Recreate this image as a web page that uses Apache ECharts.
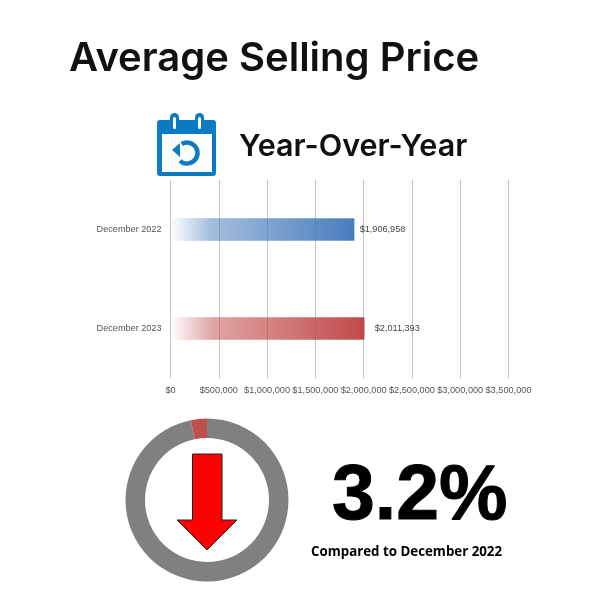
<!DOCTYPE html>
<html>
<head>
<meta charset="utf-8">
<style>html,body{margin:0;padding:0;background:#fff}#c{width:600px;height:600px}</style>
<script src="https://cdn.jsdelivr.net/npm/echarts@6/dist/echarts.min.js"></script>
</head>
<body>
<div id="c"></div>
<script>
const titleText = 'Average Selling Price';
const subtitleText = 'Year-Over-Year';
const categories = ['December 2022', 'December 2023'];
const prices = [1906958, 2011393];
const changeLabel = '3.2%';
const compareLabel = 'Compared to December 2022';
const donutValues = [96.8, 3.2];
const tickLabels = ['$0','$500,000','$1,000,000','$1,500,000','$2,000,000','$2,500,000','$3,000,000','$3,500,000'];

const fmt = v => '$' + v.toLocaleString('en-US');
const grad = (r,g,b,k) => ({type:'linear',x:0,y:0,x2:1,y2:0,colorStops:[
  {offset:0,color:`rgba(${r},${g},${b},0)`},
  {offset:0.22,color:`rgba(${r},${g},${b},${0.5*k})`},
  {offset:1,color:`rgba(${r},${g},${b},${k})`}]});
const barStyles = [
  {grad:grad(68,122,186,0.98), border:grad(68,122,186,0.4), dist:5},
  {grad:grad(190,70,68,0.98), border:grad(190,70,68,0.4), dist:10}
];
const blue = '#0b7cc4';
const pad = 0;

const chart = echarts.init(document.getElementById('c'), null, {renderer:'canvas'});
chart.setOption({
  animation:false,
  backgroundColor:'#fff',
  title:[
    {text:titleText,left:69,top:39,padding:pad,textStyle:{fontFamily:'Inter',fontSize:40,fontWeight:600,color:'#111'}},
    {text:subtitleText,left:239,top:131,padding:pad,textStyle:{fontFamily:'Inter',fontSize:30.5,fontWeight:600,color:'#111'}},
    {text:changeLabel,left:332,top:459,padding:pad,textStyle:{fontFamily:'Liberation Sans',fontSize:77,fontWeight:700,color:'#000',textBorderColor:'#000',textBorderWidth:1}},
    {text:compareLabel,left:311,top:546,padding:pad,textStyle:{fontFamily:'Open Sans',fontSize:13.3,fontWeight:700,color:'#000'}}
  ],
  grid:{left:170.5,top:180,width:338,height:198,containLabel:false},
  xAxis:{type:'value',min:0,max:3500000,interval:500000,
    axisLine:{show:false},axisTick:{show:false},
    axisLabel:{margin:8,fontFamily:'Liberation Sans',fontSize:9.2,color:'#555',hideOverlap:false,
      formatter:v=>tickLabels[v/500000]},
    splitLine:{show:true,lineStyle:{color:'#c4c4c4',width:1}}},
  yAxis:{type:'category',inverse:true,data:categories,
    axisLine:{show:false},axisTick:{show:false},
    axisLabel:{margin:9,fontFamily:'Liberation Sans',fontSize:9.15,color:'#555'}},
  series:[
    {type:'bar',barWidth:23,z:3,
     data:prices.map((v,i)=>({value:v,
       itemStyle:{color:barStyles[i].grad,borderColor:barStyles[i].border,borderWidth:1},
       label:{show:true,position:'right',distance:barStyles[i].dist,formatter:p=>fmt(p.value),
         fontFamily:'Liberation Sans',fontSize:9.15,color:'#444'}}))},
    {type:'pie',center:[207,500],radius:[62,81.5],startAngle:90,clockwise:true,silent:true,
     label:{show:false},labelLine:{show:false},
     data:[{value:donutValues[0],itemStyle:{color:'#808080'}},
           {value:donutValues[1],itemStyle:{color:'#c0504d'}}]}
  ],
  graphic:[
    {type:'group',left:157,top:113,children:[
      {type:'rect',shape:{x:0,y:7,width:59,height:56,r:3},style:{fill:blue}},
      {type:'rect',shape:{x:5,y:21,width:50,height:38},style:{fill:'#fff'}},
      {type:'rect',shape:{x:13,y:0,width:9,height:19,r:4.5},style:{fill:blue}},
      {type:'rect',shape:{x:38,y:0,width:9,height:19,r:4.5},style:{fill:blue}},
      {type:'rect',shape:{x:16,y:4,width:3,height:12,r:1.5},style:{fill:'#fff'}},
      {type:'rect',shape:{x:41,y:4,width:3,height:12,r:1.5},style:{fill:'#fff'}},
      {type:'arc',shape:{cx:30,cy:40,r:10.5,startAngle:-2.1,endAngle:2.3,clockwise:true},
        style:{stroke:blue,lineWidth:4.5,fill:null}},
      {type:'polygon',shape:{points:[[15,37],[23,30],[23,44]]},style:{fill:blue}}
    ]},
    {type:'polygon',z:10,shape:{points:[[192.5,454],[222,454],[222,520],[237,520],[207,550],[177,520],[192.5,520]]},
      style:{fill:'#ff0000',stroke:'#222',lineWidth:1}}
  ]
});
</script>
</body>
</html>
